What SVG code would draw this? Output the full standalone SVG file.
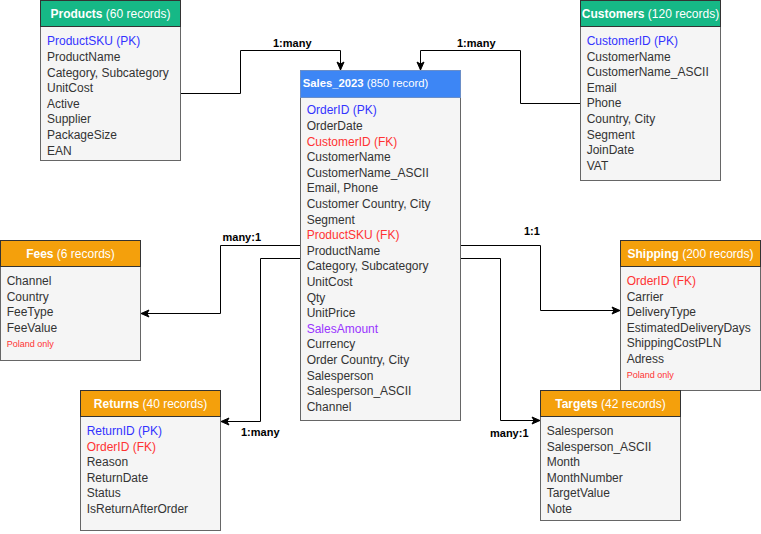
<svg xmlns="http://www.w3.org/2000/svg" width="761" height="534" viewBox="0 0 761 534">
<defs>
<style>
.body{fill:#f5f5f5;stroke:#666666;stroke-width:1}
.hg{fill:#16b886;stroke:#333333;stroke-width:1}
.ho{fill:#f4a00c;stroke:#333333;stroke-width:1}
.hb{fill:#3d86f5;stroke:#6a8ec8;stroke-width:1}
text{font-family:"Liberation Sans",Arial,Helvetica,sans-serif}
.ht{font-size:12px;fill:#ffffff;text-anchor:middle}
.hl{font-size:11.3px;fill:#ffffff}
.b{font-weight:bold}
.f{font-size:12px;fill:#333333}
.pk{fill:#3333ff}
.fk{fill:#ff3333}
.sa{fill:#9933ff}
.note{font-size:9px;fill:#ff3333}
.lbl{font-size:11px;font-weight:bold;fill:#000000}
.con{fill:none;stroke:#000000;stroke-width:1}
</style>
<marker id="arr" markerUnits="userSpaceOnUse" markerWidth="10" markerHeight="10" viewBox="0 0 10 10" refX="9" refY="5" orient="auto">
<path d="M1,1.5 L9,5 L1,8.5 L3,5 Z" fill="#000000" stroke="#000000" stroke-width="1"/>
</marker>
</defs>

<g id="connectors">
<path class="con" d="M180,93.5 H240.5 V50.5 H340.5 V70" marker-end="url(#arr)"/>
<path class="con" d="M580,103.5 H520.5 V50.5 H420.5 V70" marker-end="url(#arr)"/>
<path class="con" d="M300,245.5 H220.5 V313.5 H141" marker-end="url(#arr)"/>
<path class="con" d="M300,258.5 H260.5 V421.5 H221" marker-end="url(#arr)"/>
<path class="con" d="M460,245.5 H540.5 V310.5 H620" marker-end="url(#arr)"/>
<path class="con" d="M460,258.5 H500.5 V420.5 H540" marker-end="url(#arr)"/>
<text class="lbl" x="273" y="47">1:many</text>
<text class="lbl" x="457" y="47">1:many</text>
<text class="lbl" x="222.5" y="241">many:1</text>
<text class="lbl" x="524" y="234.5">1:1</text>
<text class="lbl" x="241" y="436">1:many</text>
<text class="lbl" x="490" y="436.5">many:1</text>
</g>

<g id="products">
<rect class="body" x="40.5" y="26.5" width="140" height="134"/>
<rect class="hg" x="40.5" y="0.5" width="140" height="26"/>
<text class="ht" x="110.5" y="18.3"><tspan class="b">Products</tspan> (60 records)</text>
<text class="f pk" x="47" y="45.3">ProductSKU (PK)</text>
<text class="f" x="47" y="60.9">ProductName</text>
<text class="f" x="47" y="76.5">Category, Subcategory</text>
<text class="f" x="47" y="92.1">UnitCost</text>
<text class="f" x="47" y="107.7">Active</text>
<text class="f" x="47" y="123.3">Supplier</text>
<text class="f" x="47" y="138.9">PackageSize</text>
<text class="f" x="47" y="154.5">EAN</text>
</g>

<g id="customers">
<rect class="body" x="580.5" y="26.5" width="140" height="154"/>
<rect class="hg" x="580.5" y="0.5" width="140" height="26"/>
<text class="ht" x="650.5" y="18.3"><tspan class="b">Customers</tspan> (120 records)</text>
<text class="f pk" x="586.7" y="45">CustomerID (PK)</text>
<text class="f" x="586.7" y="60.6">CustomerName</text>
<text class="f" x="586.7" y="76.2">CustomerName_ASCII</text>
<text class="f" x="586.7" y="91.8">Email</text>
<text class="f" x="586.7" y="107.4">Phone</text>
<text class="f" x="586.7" y="123">Country, City</text>
<text class="f" x="586.7" y="138.6">Segment</text>
<text class="f" x="586.7" y="154.2">JoinDate</text>
<text class="f" x="586.7" y="169.8">VAT</text>
</g>

<g id="sales">
<rect class="body" x="300.5" y="97.5" width="160" height="323"/>
<rect class="hb" x="300.5" y="70.5" width="160" height="27"/>
<text class="hl" x="302.7" y="87.3"><tspan class="b">Sales_2023</tspan> (850 record)</text>
<text class="f pk" x="306.7" y="114.3">OrderID (PK)</text>
<text class="f" x="306.7" y="129.9">OrderDate</text>
<text class="f fk" x="306.7" y="145.5">CustomerID (FK)</text>
<text class="f" x="306.7" y="161.1">CustomerName</text>
<text class="f" x="306.7" y="176.7">CustomerName_ASCII</text>
<text class="f" x="306.7" y="192.3">Email, Phone</text>
<text class="f" x="306.7" y="207.9">Customer Country, City</text>
<text class="f" x="306.7" y="223.5">Segment</text>
<text class="f fk" x="306.7" y="239.1">ProductSKU (FK)</text>
<text class="f" x="306.7" y="254.7">ProductName</text>
<text class="f" x="306.7" y="270.3">Category, Subcategory</text>
<text class="f" x="306.7" y="285.9">UnitCost</text>
<text class="f" x="306.7" y="301.5">Qty</text>
<text class="f" x="306.7" y="317.1">UnitPrice</text>
<text class="f sa" x="306.7" y="332.7">SalesAmount</text>
<text class="f" x="306.7" y="348.3">Currency</text>
<text class="f" x="306.7" y="363.9">Order Country, City</text>
<text class="f" x="306.7" y="379.5">Salesperson</text>
<text class="f" x="306.7" y="395.1">Salesperson_ASCII</text>
<text class="f" x="306.7" y="410.7">Channel</text>
</g>

<g id="fees">
<rect class="body" x="0.5" y="266.5" width="140" height="94"/>
<rect class="ho" x="0.5" y="240.5" width="140" height="26"/>
<text class="ht" x="70.5" y="258"><tspan class="b">Fees</tspan> (6 records)</text>
<text class="f" x="6.7" y="285">Channel</text>
<text class="f" x="6.7" y="300.6">Country</text>
<text class="f" x="6.7" y="316.2">FeeType</text>
<text class="f" x="6.7" y="331.8">FeeValue</text>
<text class="note" x="6.7" y="346.5">Poland only</text>
</g>

<g id="shipping">
<rect class="body" x="620.5" y="266.5" width="140" height="124"/>
<rect class="ho" x="620.5" y="240.5" width="140" height="26"/>
<text class="ht" x="690.5" y="258"><tspan class="b">Shipping</tspan> (200 records)</text>
<text class="f fk" x="626.7" y="285">OrderID (FK)</text>
<text class="f" x="626.7" y="300.6">Carrier</text>
<text class="f" x="626.7" y="316.2">DeliveryType</text>
<text class="f" x="626.7" y="331.8">EstimatedDeliveryDays</text>
<text class="f" x="626.7" y="347.4">ShippingCostPLN</text>
<text class="f" x="626.7" y="363">Adress</text>
<text class="note" x="626.7" y="378.2">Poland only</text>
</g>

<g id="returns">
<rect class="body" x="80.5" y="416.5" width="140" height="114"/>
<rect class="ho" x="80.5" y="390.5" width="140" height="26"/>
<text class="ht" x="150.5" y="408.3"><tspan class="b">Returns</tspan> (40 records)</text>
<text class="f pk" x="86.7" y="435">ReturnID (PK)</text>
<text class="f fk" x="86.7" y="450.6">OrderID (FK)</text>
<text class="f" x="86.7" y="466.2">Reason</text>
<text class="f" x="86.7" y="481.8">ReturnDate</text>
<text class="f" x="86.7" y="497.4">Status</text>
<text class="f" x="86.7" y="513">IsReturnAfterOrder</text>
</g>

<g id="targets">
<rect class="body" x="540.5" y="416.5" width="140" height="104"/>
<rect class="ho" x="540.5" y="390.5" width="140" height="26"/>
<text class="ht" x="610.5" y="408.3"><tspan class="b">Targets</tspan> (42 records)</text>
<text class="f" x="546.7" y="435">Salesperson</text>
<text class="f" x="546.7" y="450.6">Salesperson_ASCII</text>
<text class="f" x="546.7" y="466.2">Month</text>
<text class="f" x="546.7" y="481.8">MonthNumber</text>
<text class="f" x="546.7" y="497.4">TargetValue</text>
<text class="f" x="546.7" y="513">Note</text>
</g>
</svg>
